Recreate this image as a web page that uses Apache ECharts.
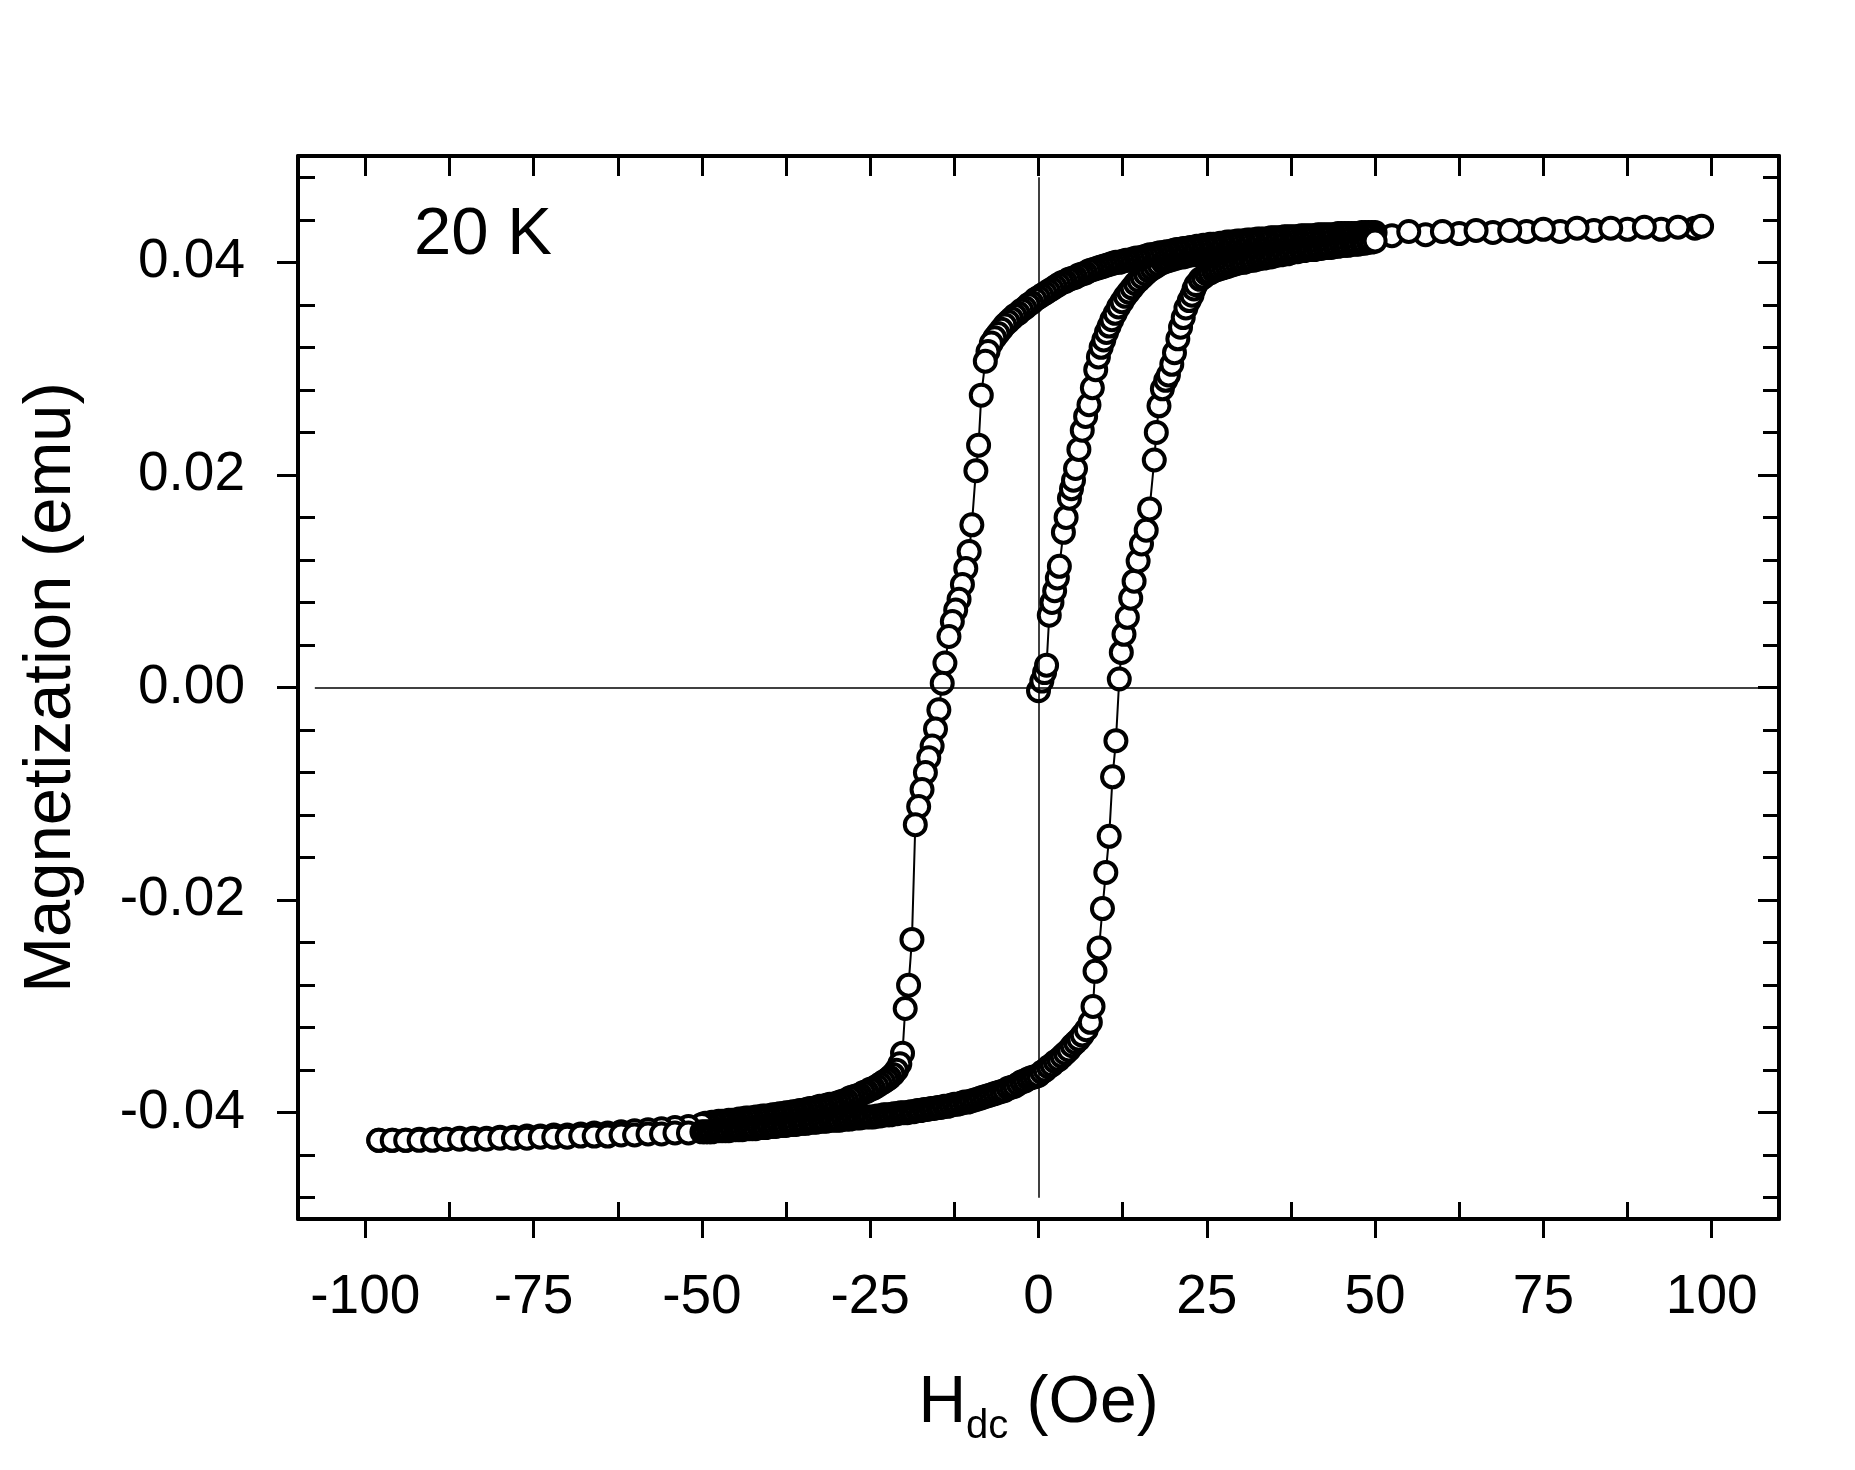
<!DOCTYPE html>
<html>
<head>
<meta charset="utf-8">
<script src="https://cdn.jsdelivr.net/npm/echarts@6/dist/echarts.min.js"></script>
<style>
  html, body { margin: 0; padding: 0; background: #fff; }
  #chart { width: 1855px; height: 1470px; }
</style>
</head>
<body>
<div id="chart"></div>
<script>
// ---------------- data (H in Oe, M in emu) ----------------
// virgin curve 0 -> +98 Oe
var virginH = [0, 0.5, 0.9, 1.2, 1.6, 2.0, 2.4, 2.8, 3.1, 3.7,
  4.1, 4.6, 4.9, 5.2, 5.5, 6.0, 6.5, 7.0, 7.5, 8.0,
  8.5, 8.9, 9.3, 9.7, 10.1, 10.5, 10.9, 11.4, 11.9, 12.4,
  12.9, 13.4, 13.9, 14.4, 14.9, 15.4, 15.9, 16.4, 16.9, 17.4, 17.9,
  18.5, 19, 19.5, 20, 20.5, 21, 21.5, 22, 22.5, 23,
  23.5, 24, 24.5, 25, 25.5, 26, 26.5, 27, 27.5, 28,
  28.5, 29, 29.5, 30, 30.5, 31, 31.5, 32, 32.5, 33,
  33.5, 34, 34.5, 35, 35.5, 36, 36.5, 37, 37.5, 38,
  38.5, 39, 39.5, 40, 40.5, 41, 41.5, 42, 42.5, 43,
  43.5, 44, 44.5, 45, 45.5, 46, 46.5, 47, 47.5, 48,
  48.5, 49, 49.5, 50,
  52.5, 57.5, 62.5, 67.5, 72.5, 77.5, 82.5, 87.5, 92.5, 97.5];
var virginM = [-0.0003, 0.0006, 0.0014, 0.0021, 0.0068, 0.0080, 0.0091, 0.0103, 0.0114, 0.0146,
  0.0160, 0.0178, 0.0187, 0.0195, 0.0206, 0.0224, 0.0242, 0.0255, 0.0266, 0.0282,
  0.0299, 0.0311, 0.0320, 0.0327, 0.0334, 0.0340, 0.0346, 0.0352, 0.0358, 0.0363,
  0.0368, 0.0372, 0.0376, 0.0380, 0.0383, 0.0386, 0.0389, 0.0392, 0.0394, 0.0396, 0.0398,
  0.0400, 0.0401, 0.0402, 0.0403, 0.0404, 0.0405, 0.0405, 0.0406, 0.0407, 0.0407,
  0.0408, 0.0408, 0.0409, 0.0409, 0.0410, 0.0410, 0.0411, 0.0411, 0.0412, 0.0412,
  0.0412, 0.0413, 0.0413, 0.0414, 0.0414, 0.0414, 0.0415, 0.0415, 0.0415, 0.0416,
  0.0416, 0.0416, 0.0417, 0.0417, 0.0417, 0.0418, 0.0418, 0.0418, 0.0419, 0.0419,
  0.0419, 0.0419, 0.0420, 0.0420, 0.0420, 0.0420, 0.0421, 0.0421, 0.0421, 0.0421,
  0.0422, 0.0422, 0.0422, 0.0422, 0.0423, 0.0423, 0.0423, 0.0423, 0.0423, 0.0424,
  0.0424, 0.0424, 0.0424, 0.0424,
  0.0425, 0.0426, 0.0427, 0.0428, 0.0429, 0.0429, 0.0430, 0.0431, 0.0431, 0.0432];

// descending branch +98 -> -98 Oe
var descH = [98.5, 95, 90, 85, 80, 75, 70, 65, 60, 55,
  50, 49.5, 49, 48.5, 48, 47.5, 47, 46.5, 46, 45.5, 45,
  44.5, 44, 43.5, 43, 42.5, 42, 41.5, 41, 40.5, 40,
  39.5, 39, 38.5, 38, 37.5, 37, 36.5, 36, 35.5, 35,
  34.5, 34, 33.5, 33, 32.5, 32, 31.5, 31, 30.5, 30,
  29.5, 29, 28.5, 28, 27.5, 27, 26.5, 26, 25.5, 25,
  24.5, 24, 23.5, 23, 22.5, 22, 21.5, 21, 20.5, 20,
  19.5, 19, 18.5, 18, 17.5, 17, 16.5, 16, 15.5, 15,
  14.5, 14, 13.5, 13, 12.5, 12, 11.5, 11, 10.5, 10,
  9.5, 9, 8.5, 8, 7.5, 7, 6.5, 6, 5.5, 5,
  4.5, 4, 3.5, 3, 2.5, 2, 1.5, 1, 0.5, 0,
  -0.5, -1, -1.5, -2, -2.5, -3, -3.5, -4, -4.5, -5,
  -5.5, -6, -6.5, -7, -7.5,
  -7.9, -8.5, -8.9, -9.3, -9.9, -10.3, -10.8, -11.3, -11.8, -12.3,
  -12.8, -13.3, -13.9, -14.3, -14.8, -15.3, -15.8, -16.3, -16.8, -17.3,
  -17.8, -18.3, -18.8, -19.3, -19.8, -20.2, -20.6, -21.1, -21.6, -22.1,
  -22.5, -23, -23.5, -24, -24.5, -25,
  -25.5, -26, -26.5, -27, -27.5, -28, -28.5, -29, -29.5, -30,
  -30.5, -31, -31.5, -32, -32.5, -33, -33.5, -34, -34.5, -35,
  -35.5, -36, -36.5, -37, -37.5, -38, -38.5, -39, -39.5, -40,
  -40.5, -41, -41.5, -42, -42.5, -43, -43.5, -44, -44.5, -45,
  -45.5, -46, -46.5, -47, -47.5, -48, -48.5, -49, -49.5, -50,
  -52, -54, -56, -58, -60, -62, -64, -66, -68, -70, -72, -74,
  -76, -78, -80, -82, -84, -86, -88, -90, -92, -94, -96, -98];
var descM = [0.0434, 0.0433, 0.0433, 0.0432, 0.0432, 0.0431, 0.0430, 0.0430, 0.0429, 0.0429,
  0.0428, 0.0428, 0.0428, 0.0428, 0.0428, 0.0427, 0.0427, 0.0427, 0.0427, 0.0427, 0.0427,
  0.0427, 0.0426, 0.0426, 0.0426, 0.0426, 0.0426, 0.0426, 0.0425, 0.0425, 0.0425,
  0.0425, 0.0425, 0.0424, 0.0424, 0.0424, 0.0424, 0.0424, 0.0423, 0.0423, 0.0423,
  0.0423, 0.0422, 0.0422, 0.0422, 0.0422, 0.0421, 0.0421, 0.0421, 0.0420, 0.0420,
  0.0420, 0.0419, 0.0419, 0.0419, 0.0418, 0.0418, 0.0417, 0.0417, 0.0417, 0.0416,
  0.0416, 0.0415, 0.0415, 0.0414, 0.0414, 0.0413, 0.0413, 0.0412, 0.0412, 0.0411,
  0.0410, 0.0410, 0.0409, 0.0409, 0.0408, 0.0407, 0.0407, 0.0406, 0.0405, 0.0404,
  0.0404, 0.0403, 0.0402, 0.0402, 0.0401, 0.0400, 0.0400, 0.0399, 0.0398, 0.0397,
  0.0396, 0.0395, 0.0394, 0.0393, 0.0392, 0.0390, 0.0389, 0.0388, 0.0386, 0.0385,
  0.0384, 0.0382, 0.0381, 0.0379, 0.0377, 0.0375, 0.0373, 0.0371, 0.0369, 0.0367,
  0.0365, 0.0362, 0.0360, 0.0357, 0.0355, 0.0352, 0.0350, 0.0347, 0.0344, 0.0341,
  0.0337, 0.0333, 0.0329, 0.0324, 0.0316,
  0.0307, 0.0275, 0.0228, 0.0204, 0.0153, 0.0128, 0.0112, 0.0097, 0.0083, 0.0073,
  0.0062, 0.0048, 0.0023, 0.0004, -0.0021, -0.0039, -0.0055, -0.0066, -0.0080, -0.0096,
  -0.0112, -0.0129, -0.0237, -0.0280, -0.0302, -0.0344, -0.0354, -0.0360, -0.0364, -0.0367,
  -0.0369, -0.0371, -0.0373, -0.0375, -0.0377, -0.0378,
  -0.0380, -0.0381, -0.0383, -0.0384, -0.0385, -0.0386, -0.0388, -0.0389, -0.0390, -0.0391,
  -0.0392, -0.0392, -0.0393, -0.0394, -0.0394, -0.0395, -0.0396, -0.0396, -0.0397, -0.0398,
  -0.0398, -0.0399, -0.0399, -0.0400, -0.0400, -0.0401, -0.0401, -0.0402, -0.0402, -0.0403,
  -0.0403, -0.0403, -0.0404, -0.0404, -0.0405, -0.0405, -0.0405, -0.0406, -0.0406, -0.0407,
  -0.0407, -0.0407, -0.0408, -0.0408, -0.0408, -0.0409, -0.0409, -0.0410, -0.0410, -0.0411,
  -0.0413, -0.0414, -0.0415, -0.0416, -0.0417, -0.0418, -0.0419, -0.0419, -0.0420, -0.0421, -0.0421, -0.0422,
  -0.0422, -0.0423, -0.0423, -0.0424, -0.0424, -0.0424, -0.0425, -0.0425, -0.0425, -0.0426, -0.0426, -0.0426];

// ascending branch -98 -> +50 Oe
var ascH = [-98, -96, -94, -92, -90, -88, -86, -84, -82, -80, -78, -76,
  -74, -72, -70, -68, -66, -64, -62, -60, -58, -56, -54, -52,
  -50, -49.5, -49, -48.5, -48, -47.5, -47, -46.5, -46, -45.5,
  -45, -44.5, -44, -43.5, -43, -42.5, -42, -41.5, -41, -40.5,
  -40, -39.5, -39, -38.5, -38, -37.5, -37, -36.5, -36, -35.5,
  -35, -34.5, -34, -33.5, -33, -32.5, -32, -31.5, -31, -30.5,
  -30, -29.5, -29, -28.5, -28, -27.5, -27, -26.5, -26, -25.5,
  -25, -24.5, -24, -23.5, -23, -22.5, -22, -21.5, -21, -20.5,
  -20, -19.5, -19, -18.5, -18, -17.5, -17, -16.5, -16, -15.5,
  -15, -14.5, -14, -13.5, -13, -12.5, -12, -11.5, -11, -10.5,
  -10, -9.5, -9, -8.5, -8, -7.5, -7, -6.5, -6, -5.5,
  -5, -4.5, -4, -3.5, -3, -2.5, -2, -1.5, -1, -0.5,
  0, 0.5, 1, 1.5, 2, 2.5, 3, 3.5, 4, 4.5,
  5, 5.5, 6,
  6.5, 7.1, 7.7, 8.1, 8.4, 9.0, 9.5, 10.0, 10.5, 11.0,
  11.5, 12.0, 12.3, 12.7, 13.2, 13.7, 14.2, 14.8, 15.3, 16.0,
  16.5, 17.2, 17.5, 17.9, 18.4, 18.9, 19.3, 19.8, 20.2, 20.7,
  21.1, 21.5, 21.9, 22.4, 22.8, 23.1, 23.4,
  24, 24.5, 25, 25.5, 26, 26.5, 27, 27.5, 28, 28.5,
  29, 29.5, 30, 30.5, 31, 31.5, 32, 32.5, 33, 33.5,
  34, 34.5, 35, 35.5, 36, 36.5, 37, 37.5, 38, 38.5,
  39, 39.5, 40, 40.5, 41, 41.5, 42, 42.5, 43, 43.5,
  44, 44.5, 45, 45.5, 46, 46.5, 47, 47.5, 48, 48.5,
  49, 49.5, 50];
var ascM = [-0.0426, -0.0426, -0.0426, -0.0426, -0.0426, -0.0425, -0.0425, -0.0425, -0.0425, -0.0424, -0.0424, -0.0424,
  -0.0423, -0.0423, -0.0423, -0.0422, -0.0422, -0.0422, -0.0421, -0.0421, -0.0420, -0.0420, -0.0419, -0.0419,
  -0.0418, -0.0418, -0.0418, -0.0418, -0.0417, -0.0417, -0.0417, -0.0417, -0.0417, -0.0416,
  -0.0416, -0.0416, -0.0416, -0.0415, -0.0415, -0.0415, -0.0415, -0.0414, -0.0414, -0.0414,
  -0.0413, -0.0413, -0.0413, -0.0412, -0.0412, -0.0412, -0.0411, -0.0411, -0.0411, -0.0410,
  -0.0410, -0.0410, -0.0409, -0.0409, -0.0409, -0.0408, -0.0408, -0.0408, -0.0407, -0.0407,
  -0.0407, -0.0407, -0.0406, -0.0406, -0.0406, -0.0405, -0.0405, -0.0405, -0.0404, -0.0404,
  -0.0404, -0.0404, -0.0403, -0.0403, -0.0402, -0.0402, -0.0402, -0.0401, -0.0401, -0.0400,
  -0.0400, -0.0400, -0.0399, -0.0399, -0.0398, -0.0398, -0.0397, -0.0397, -0.0396, -0.0396,
  -0.0395, -0.0395, -0.0394, -0.0394, -0.0393, -0.0392, -0.0392, -0.0391, -0.0390, -0.0390,
  -0.0389, -0.0388, -0.0387, -0.0386, -0.0385, -0.0384, -0.0383, -0.0382, -0.0381, -0.0380,
  -0.0379, -0.0377, -0.0376, -0.0375, -0.0373, -0.0371, -0.0370, -0.0368, -0.0367, -0.0366,
  -0.0365, -0.0362, -0.0360, -0.0357, -0.0355, -0.0352, -0.0350, -0.0347, -0.0344, -0.0341,
  -0.0337, -0.0334, -0.0331,
  -0.0327, -0.0322, -0.0315, -0.0300, -0.0267, -0.0245, -0.0208, -0.0174, -0.0140, -0.0084,
  -0.0050, 0.0008, 0.0033, 0.0050, 0.0066, 0.0084, 0.0100, 0.0119, 0.0135, 0.0148,
  0.0168, 0.0214, 0.0240, 0.0265, 0.0281, 0.0289, 0.0294, 0.0304, 0.0315, 0.0328,
  0.0339, 0.0348, 0.0357, 0.0364, 0.0369, 0.0375, 0.0379,
  0.0384, 0.0386, 0.0389, 0.0390, 0.0392, 0.0393, 0.0394, 0.0395, 0.0396, 0.0397,
  0.0398, 0.0399, 0.0400, 0.0400, 0.0401, 0.0402, 0.0402, 0.0403, 0.0404, 0.0404,
  0.0405, 0.0405, 0.0406, 0.0407, 0.0407, 0.0408, 0.0408, 0.0409, 0.0410, 0.0410,
  0.0411, 0.0411, 0.0412, 0.0412, 0.0412, 0.0413, 0.0413, 0.0414, 0.0414, 0.0414,
  0.0415, 0.0415, 0.0416, 0.0416, 0.0416, 0.0417, 0.0417, 0.0417, 0.0418, 0.0418,
  0.0419, 0.0419, 0.0420];

// ticks
var xMajor = [-100, -75, -50, -25, 0, 25, 50, 75, 100];
var xMinor = [-87.5, -62.5, -37.5, -12.5, 12.5, 37.5, 62.5, 87.5];
var xTop = [-100, -87.5, -75, -62.5, -50, -37.5, -25, -12.5, 0, 12.5, 25, 37.5, 50, 62.5, 75, 87.5, 100];
var yMajor = [-0.04, -0.02, 0, 0.02, 0.04];
var yMinor = [-0.048, -0.044, -0.036, -0.032, -0.028, -0.024, -0.016, -0.012, -0.008, -0.004,
  0.004, 0.008, 0.012, 0.016, 0.024, 0.028, 0.032, 0.036, 0.044, 0.048];

// zero reference lines
var zeroLineV = [-0.048, 0.048];   // x = 0, from M to M
var zeroLineH = [-107.5, 110];     // y = 0, from H to H

// ---------------------------------------------------------------------------
function pairs(h, m) {
  var out = [];
  var n = Math.min(h.length, m.length);
  for (var i = 0; i < n; i++) out.push([h[i], m[i]]);
  return out;
}

var loopData = pairs(virginH, virginM).concat(pairs(descH, descM), pairs(ascH, ascM));

var FONT = 'Liberation Sans';
var black = '#000';

function frameAxis(extra) {
  var base = {
    type: 'value',
    min: -110,
    max: 110,
    splitLine: { show: false },
    axisLine: { show: false, onZero: false },
    axisLabel: { show: false },
    axisTick: { show: false }
  };
  return Object.assign(base, extra);
}

var chart = echarts.init(document.getElementById('chart'), null, { renderer: 'canvas' });

chart.setOption({
  backgroundColor: '#fff',
  animation: false,
  grid: { left: 298, right: 76, top: 156, bottom: 251 },
  xAxis: [
    frameAxis({
      position: 'bottom',
      axisLine: { show: true, onZero: false, lineStyle: { color: black, width: 4 } },
      axisTick: { show: true, inside: false, length: 19, customValues: xMajor, lineStyle: { color: black, width: 3 } },
      axisLabel: { show: true, customValues: xMajor, fontFamily: FONT, fontSize: 55, color: black, margin: 51 },
      name: '{h|H}{s|dc}{h| (Oe)}',
      nameLocation: 'middle',
      nameGap: 152,
      nameTextStyle: {
        rich: {
          h: { fontFamily: FONT, fontSize: 66, color: black, verticalAlign: 'top' },
          s: { fontFamily: FONT, fontSize: 40, color: black, verticalAlign: 'top', padding: [36, 0, 0, 0] }
        }
      }
    }),
    frameAxis({
      position: 'bottom',
      axisTick: { show: true, inside: true, length: 17, customValues: xMinor, lineStyle: { color: black, width: 3 } }
    }),
    frameAxis({
      position: 'top',
      axisLine: { show: true, onZero: false, lineStyle: { color: black, width: 4 } },
      axisTick: { show: true, inside: true, length: 20, customValues: xTop, lineStyle: { color: black, width: 3 } }
    })
  ],
  yAxis: [
    {
      type: 'value', min: -0.05, max: 0.05, position: 'left',
      splitLine: { show: false },
      axisLine: { show: true, onZero: false, lineStyle: { color: black, width: 4 } },
      axisTick: { show: true, inside: false, length: 21, customValues: yMajor, lineStyle: { color: black, width: 3 } },
      axisLabel: {
        show: true, customValues: yMajor, fontFamily: FONT, fontSize: 55, color: black, margin: 53,
        formatter: function (v) { return (Math.abs(v) < 1e-9 ? 0 : v).toFixed(2); }
      },
      name: 'Magnetization (emu)',
      nameLocation: 'middle',
      nameGap: 213,
      nameTextStyle: { fontFamily: FONT, fontSize: 67, color: black }
    },
    {
      type: 'value', min: -0.05, max: 0.05, position: 'left',
      splitLine: { show: false }, axisLine: { show: false, onZero: false }, axisLabel: { show: false },
      axisTick: { show: true, inside: true, length: 17, customValues: yMinor, lineStyle: { color: black, width: 3 } }
    },
    {
      type: 'value', min: -0.05, max: 0.05, position: 'right',
      splitLine: { show: false }, axisLabel: { show: false },
      axisLine: { show: true, onZero: false, lineStyle: { color: black, width: 4 } },
      axisTick: { show: true, inside: true, length: 21, customValues: yMajor, lineStyle: { color: black, width: 3 } }
    },
    {
      type: 'value', min: -0.05, max: 0.05, position: 'right',
      splitLine: { show: false }, axisLine: { show: false, onZero: false }, axisLabel: { show: false },
      axisTick: { show: true, inside: true, length: 16, customValues: yMinor, lineStyle: { color: black, width: 3 } }
    }
  ],
  graphic: [{
    type: 'text',
    x: 414,
    y: 236,
    style: { text: '20 K', fontFamily: FONT, fontSize: 67, fill: black, verticalAlign: 'middle' }
  }],
  series: [
    {
      // zero lines under the data
      type: 'line',
      xAxisIndex: 0, yAxisIndex: 0,
      data: [],
      z: 1,
      silent: true,
      markLine: {
        silent: true,
        symbol: ['none', 'none'],
        label: { show: false },
        lineStyle: { color: black, width: 1.5, type: 'solid' },
        data: [
          [{ coord: [0, zeroLineV[0]] }, { coord: [0, zeroLineV[1]] }],
          [{ coord: [zeroLineH[0], 0] }, { coord: [zeroLineH[1], 0] }]
        ]
      }
    },
    {
      name: '20 K',
      type: 'line',
      xAxisIndex: 0, yAxisIndex: 0,
      data: loopData,
      z: 3,
      silent: true,
      symbol: 'circle',
      symbolSize: 21,
      showSymbol: true,
      itemStyle: { color: '#fff', borderColor: black, borderWidth: 4 },
      lineStyle: { color: black, width: 2 },
      emphasis: { disabled: true }
    }
  ]
});
</script>
</body>
</html>
